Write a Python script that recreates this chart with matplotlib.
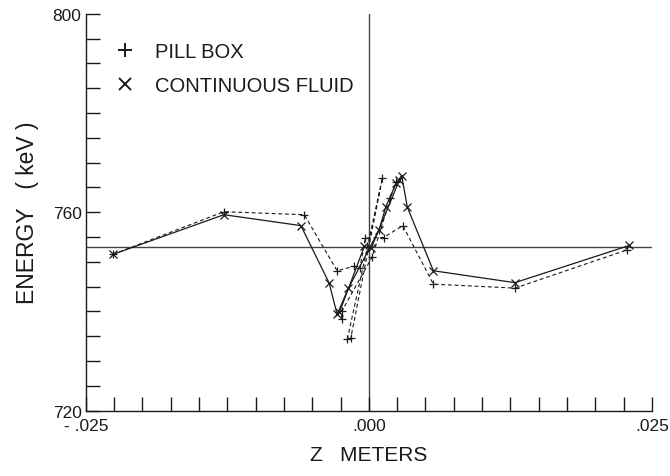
import matplotlib
matplotlib.use("Agg")
import matplotlib.pyplot as plt
from matplotlib.lines import Line2D
from matplotlib.ticker import FixedLocator, FuncFormatter

plt.rcParams['font.family'] = ['Liberation Sans', 'DejaVu Sans']

# reference energy (keV) drawn as horizontal line
e_ref = 752.9

# pill box, main trace (dashed, +)
pb_z = [-0.0226, -0.0128, -0.0057, -0.0028, -0.0013, -0.0008, -0.0003, 0.0013, 0.0030, 0.0057, 0.0129, 0.0228]
pb_e = [751.5, 760.1, 759.5, 748.2, 749.1, 748.7, 754.8, 754.9, 757.3, 745.5, 744.7, 752.4]
# pill box, steep traces through the centre
pb2_z = [-0.0024, -0.0024, 0.0003, 0.0019, 0.0024]
pb2_e = [738.5, 740.0, 751.0, 762.8, 766.0]
pb3_z = [-0.0019, 0.0012, -0.0016]
pb3_e = [734.4, 766.9, 734.6]

# continuous fluid, main trace (solid, x)
cf_z = [-0.0226, -0.0128, -0.0060, -0.0035, -0.0028, -0.0018, 0.0009, 0.0015, 0.0024, 0.0029, 0.0034, 0.0057, 0.0129, 0.0230]
cf_e = [751.5, 759.5, 757.3, 745.7, 739.4, 744.7, 756.4, 761.1, 765.8, 767.4, 761.0, 748.2, 745.8, 753.3]
# continuous fluid, second trace near centre
cf2_z = [-0.0026, -0.0004, 0.0002, 0.0027]
cf2_e = [739.8, 753.1, 752.7, 766.5]

x_ticks = [-0.025 + 0.0025 * i for i in range(21)]
x_labels = {-0.025: '- .025', 0.0: '.000', 0.025: '.025'}
y_ticks = [720 + 5 * i for i in range(17)]
y_labels = [720, 760, 800]

ink = '#1a1a1a'

fig = plt.figure(figsize=(6.7, 4.77), dpi=100)
ax = fig.add_axes([0.128, 0.137, 0.845, 0.832])

ax.axhline(e_ref, color='#444444', lw=1.0, zorder=1)
ax.axvline(0.0, color='#444444', lw=1.0, zorder=1)

dash = (0, (3.5, 2.5))
for z, e in [(pb_z, pb_e), (pb2_z, pb2_e), (pb3_z, pb3_e)]:
    ax.plot(z, e, color=ink, lw=0.8, linestyle=dash, marker='+', ms=6, mew=0.9)
for z, e in [(cf_z, cf_e), (cf2_z, cf2_e)]:
    ax.plot(z, e, color=ink, lw=0.9, linestyle='-', marker='x', ms=5.5, mew=0.9)

ax.set_xlim(-0.025, 0.025)
ax.set_ylim(720, 800)

ax.spines['top'].set_visible(False)
ax.spines['right'].set_visible(False)
for s in ['left', 'bottom']:
    ax.spines[s].set_color(ink)
    ax.spines[s].set_linewidth(1.0)

ax.xaxis.set_major_locator(FixedLocator(x_ticks))
ax.xaxis.set_major_formatter(FuncFormatter(
    lambda v, p: next((t for k, t in x_labels.items() if abs(v - k) < 1e-6), '')))
ax.yaxis.set_major_locator(FixedLocator(y_ticks))
ax.yaxis.set_major_formatter(FuncFormatter(
    lambda v, p: '%d' % round(v) if round(v) in y_labels else ''))
ax.tick_params(direction='in', length=10, width=1.0, color=ink, labelsize=12.5,
               labelcolor=ink)
ax.tick_params(axis='x', pad=5)
ax.tick_params(axis='y', pad=3)

ax.set_xlabel('Z   METERS', fontsize=15, color=ink, labelpad=9)
ax.set_ylabel('ENERGY   ( keV )', fontsize=16.5, color=ink, labelpad=10)

handles = [
    Line2D([], [], color=ink, marker='+', ms=10, mew=1.4, linestyle='none'),
    Line2D([], [], color=ink, marker='x', ms=8, mew=1.4, linestyle='none'),
]
ax.legend(handles, ['PILL BOX', 'CONTINUOUS FLUID'], loc='upper left',
          bbox_to_anchor=(0.019, 0.975), frameon=False, fontsize=14.5,
          handlelength=1.0, handletextpad=1.0, labelspacing=0.75,
          labelcolor=ink)

fig.savefig('out.png', dpi=100)
